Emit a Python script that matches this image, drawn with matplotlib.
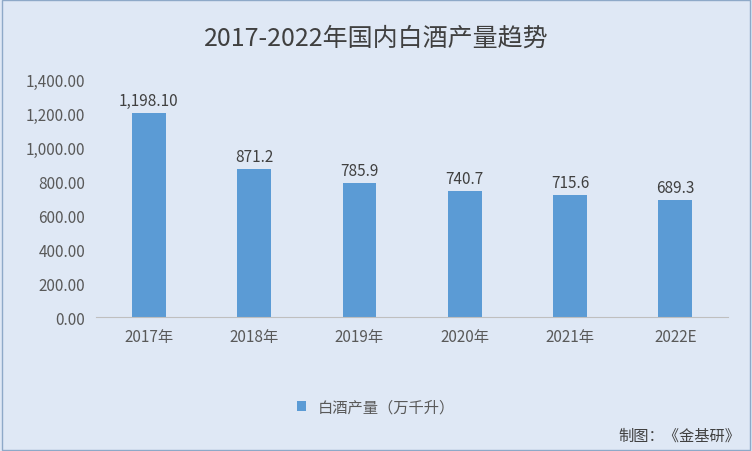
import matplotlib.pyplot as plt
from matplotlib.patches import Rectangle

plt.rcParams['font.family'] = ['Noto Sans CJK SC', 'DejaVu Sans']

# 数据
years = ["2017年", "2018年", "2019年", "2020年", "2021年", "2022E"]
output = [1198.10, 871.2, 785.9, 740.7, 715.6, 689.3]
labels = ["1,198.10", "871.2", "785.9", "740.7", "715.6", "689.3"]

bg = "#dfe8f5"
fig = plt.figure(figsize=(7.52, 4.52), dpi=100, facecolor=bg)
fig.patches.append(Rectangle((0.002, 0.002), 0.996, 0.996, transform=fig.transFigure,
                             fill=False, edgecolor="#8ea9c8", linewidth=1))
ax = fig.add_axes([0.128, 0.296, 0.84, 0.527], facecolor=bg)

x = range(len(years))
bars = ax.bar(x, output, width=0.32, color="#5b9bd5", label="白酒产量（万千升）")
for i, v in enumerate(output):
    ax.text(i, v + 25, labels[i], ha="center", va="bottom", fontsize=11, color="#404040")

ax.set_ylim(0, 1400)
ax.set_xlim(-0.5, len(years) - 0.5)
ax.set_yticks(range(0, 1401, 200))
ax.set_yticklabels([f"{v:,.2f}" for v in range(0, 1401, 200)], fontsize=11, color="#595959")
ax.set_xticks(list(x))
ax.set_xticklabels(years, fontsize=11, color="#595959")
for s in ["top", "right", "left"]:
    ax.spines[s].set_visible(False)
ax.spines["bottom"].set_color("#bfbfbf")
ax.tick_params(length=0, pad=8)

fig.text(0.5, 0.915, "2017-2022年国内白酒产量趋势", ha="center", va="center",
         fontsize=18, color="#404040")
fig.legend(handles=[bars], loc="center", bbox_to_anchor=(0.5, 0.097), frameon=False,
           fontsize=11, handlelength=0.6, handleheight=0.6, labelcolor="#595959")
fig.text(0.985, 0.035, "制图：《金基研》", ha="right", va="center", fontsize=11, color="#404040")

fig.savefig("out.png", dpi=100, facecolor=bg)
